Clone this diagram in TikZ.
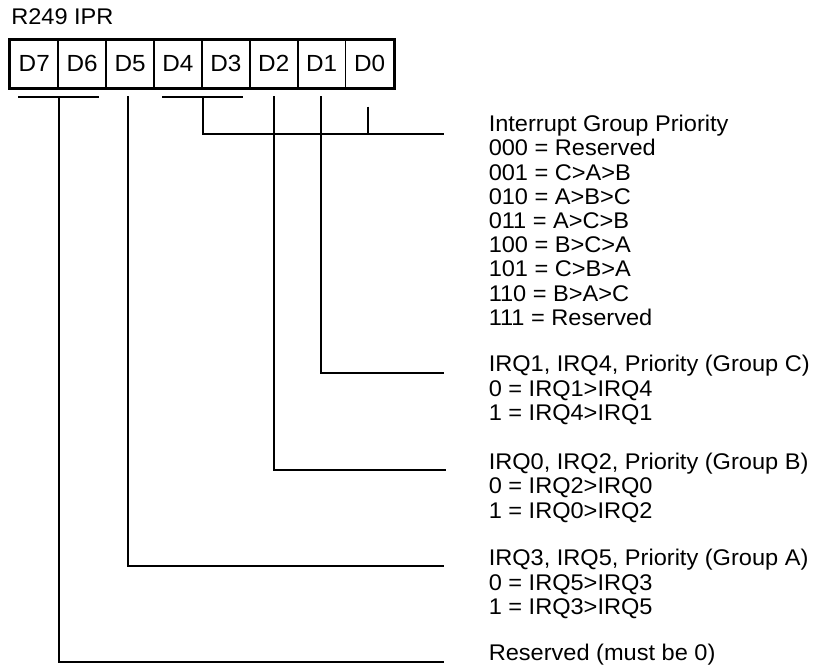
\documentclass[tikz,border=0pt]{standalone}
\usepackage{fontspec}
\setmainfont[FakeStretch=1.04]{Liberation Sans}
\usetikzlibrary{calc}
\begin{document}
\begin{tikzpicture}[x=0.75pt,y=-0.75pt,
  conn/.style={line width=1.5pt},
  lbl/.style={anchor=base west, inner sep=0pt, font=\fontsize{17}{19}\selectfont},
  cell/.style={draw, line width=1.2pt, minimum width=35.9pt, minimum height=35.8pt,
    inner sep=0pt, font=\fontsize{17.5}{19}\selectfont}]
\useasboundingbox (0,0) rectangle (818,671);

% title
\node[lbl] (title) at (11,25) {R249 IPR};

% register cells
\foreach \b [count=\i from 0] in {7,6,5,4,3,2,1,0}
  \node[cell] (d\b) at ({34.25+47.9*\i},63.85) {D\b};
\draw[line width=2.4pt] (d7.north west) rectangle (d0.south east);

% right-hand texts
\foreach \t [count=\k from 0] in {Interrupt Group Priority,000 = Reserved,001 = C>A>B,010 = A>B>C,011 = A>C>B,100 = B>C>A,101 = C>B>A,110 = B>A>C,111 = Reserved}
  \node[lbl] (tg\k) at (488.5,{131.7+24.2*\k}) {\t};
\foreach \t [count=\k from 0] in {{IRQ1, IRQ4, Priority (Group C)},0 = IRQ1>IRQ4,1 = IRQ4>IRQ1}
  \node[lbl] (tc\k) at (488.5,{371.7+24.5*\k}) {\t};
\foreach \t [count=\k from 0] in {{IRQ0, IRQ2, Priority (Group B)},0 = IRQ2>IRQ0,1 = IRQ0>IRQ2}
  \node[lbl] (tb\k) at (488.5,{469.3+24.5*\k}) {\t};
\foreach \t [count=\k from 0] in {{IRQ3, IRQ5, Priority (Group A)},0 = IRQ5>IRQ3,1 = IRQ3>IRQ5}
  \node[lbl] (ta\k) at (488.5,{565.7+24.5*\k}) {\t};
\node[lbl] (trsv) at (488.5,660) {Reserved (must be 0)};

% line end points
\coordinate (eG) at (444,134);
\coordinate (eC) at (444,373.3);
\coordinate (eB) at (446,470);
\coordinate (eA) at (444,565.7);
\coordinate (eR) at (444,662);

% bracket and tap points
\coordinate (k76) at ($(d7.south east)+(0,8.8)$);
\coordinate (k43) at ($(d4.south east)+(0,8.8)$);
\coordinate (k5) at ($(d5.south)+(-2,7.8)$);
\coordinate (k2) at ($(d2.south)+(0,7.8)$);
\coordinate (k1) at ($(d1.south)+(-1,7.8)$);
\coordinate (k0) at ($(d0.south)+(-1.5,18)$);

% brackets
\draw[conn] ($(k76)+(-40.5,0)$) -- ($(k76)+(40.5,0)$);
\draw[conn] ($(k43)+(-40.5,0)$) -- ($(k43)+(40,0)$);

% connectors
\draw[conn] (k76) |- (eR);
\draw[conn] (k5) |- (eA);
\draw[conn] (k43) |- (eG);
\draw[conn] (k2) |- (eB);
\draw[conn] (k1) |- (eC);
\draw[conn] (k0) -- (k0 |- eG);
\end{tikzpicture}
\end{document}
